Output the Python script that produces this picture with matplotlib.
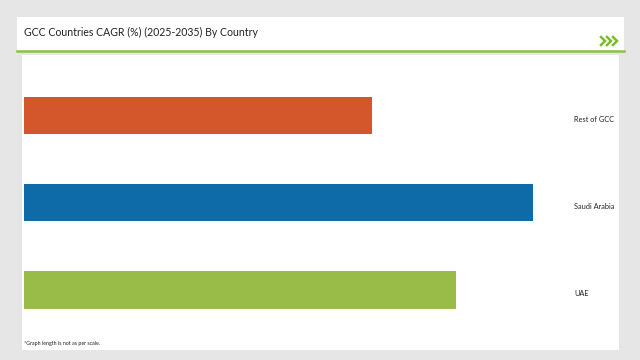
import matplotlib.pyplot as plt
import matplotlib.transforms as mtransforms
from matplotlib.patches import Rectangle

# data (bottom to top)
countries = ['UAE', 'Saudi Arabia', 'Rest of GCC']
cagr = [6.7, 7.9, 5.4]
colors = ['#98bc47', '#0f6aa8', '#d4562b']

W, H = 640, 360
fig = plt.figure(figsize=(6.4, 3.6), dpi=100)
fig.patch.set_facecolor('#e6e6e6')

def px(x0, y0, x1, y1):
    # pixel box (top-left origin) -> figure fraction rect
    return [x0 / W, 1 - y1 / H, (x1 - x0) / W, (y1 - y0) / H]

# header panel and main panel
for box in [(17, 17, 624, 51), (22, 55, 619, 350)]:
    r = px(*box)
    fig.patches.append(Rectangle((r[0], r[1]), r[2], r[3], transform=fig.transFigure,
                                 facecolor='white', edgecolor='none', zorder=-5))
fig.add_artist(plt.Line2D([17 / W, 624 / W], [1 - 51 / H, 1 - 51 / H], color='#8cc04b', lw=1.8))

fig.text(24 / W, 1 - 32 / H, 'GCC Countries CAGR (%) (2025-2035) By Country',
         fontsize=7.6, family='Lato', va='center', ha='left', color='#222222')

# chevrons
for cx in [601, 607, 613]:
    fig.add_artist(plt.Line2D([cx / W, (cx + 4) / W, cx / W],
                              [1 - 37 / H, 1 - 41 / H, 1 - 45 / H],
                              color='#7cbb2c', lw=1.8, solid_joinstyle='miter'))

ax = fig.add_axes(px(24, 72, 546, 330))
ax.barh(range(len(countries)), cagr, height=0.425, color=colors)
ax.set_xlim(0, 8.1)
ax.set_ylim(-0.458, 2.4986)
ax.axis('off')

# country labels: x in figure coords, y in data (sit a little below bar centre)
blend = mtransforms.blended_transform_factory(fig.transFigure, ax.transData)
for i, name in enumerate(countries):
    ax.text(574 / W, i - 0.045, name, transform=blend, fontsize=5.3,
            family='Lato', va='center', ha='left', color='#222222')

fig.text(24 / W, 1 - 344 / H, '*Graph length is not as per scale.', fontsize=3.8,
         family='Lato', va='center', ha='left', color='#222222')

fig.savefig('out.png', dpi=100, facecolor=fig.get_facecolor())
